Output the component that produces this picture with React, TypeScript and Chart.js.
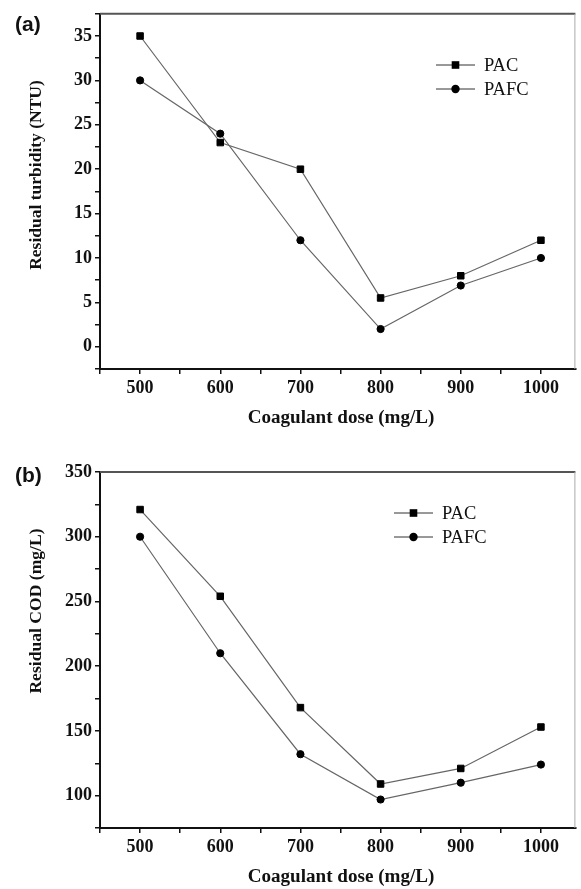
import React, { useEffect, useRef } from 'react';
import { Chart, registerables } from 'chart.js';

Chart.register(...registerables);

// ---- data ----
const doses = [500, 600, 700, 800, 900, 1000];
const seriesNames = ['PAC', 'PAFC'];
const turbidityPAC = [35, 23, 20, 5.5, 8, 12];
const turbidityPAFC = [30, 24, 12, 2, 6.9, 10];
const codPAC = [321, 254, 168, 109, 121, 153];
const codPAFC = [300, 210, 132, 97, 110, 124];
const xTitle = 'Coagulant dose (mg/L)';
const yTitleA = 'Residual turbidity (NTU)';
const yTitleB = 'Residual COD (mg/L)';

const INK = '#111';
const SERIF = '"Liberation Serif", "Times New Roman", serif';

const decorPlugin = {
  id: 'decor',
  afterDraw(chart: any, _args: any, opts: any) {
    const ctx = chart.ctx as CanvasRenderingContext2D;
    const { left, right, top, bottom } = chart.chartArea;
    ctx.save();
    // frame: top and right
    ctx.strokeStyle = '#555';
    ctx.lineWidth = 2;
    ctx.beginPath();
    ctx.moveTo(left, top);
    ctx.lineTo(right, top);
    ctx.stroke();
    ctx.strokeStyle = '#aaa';
    ctx.lineWidth = 1;
    ctx.beginPath();
    ctx.moveTo(right - 0.5, top);
    ctx.lineTo(right - 0.5, bottom);
    ctx.stroke();

    // panel label
    ctx.fillStyle = INK;
    ctx.textAlign = 'left';
    ctx.textBaseline = 'alphabetic';
    ctx.font = 'bold 21px "Liberation Sans", Arial, sans-serif';
    ctx.fillText(opts.panel, opts.panelX, opts.panelY);

    // x title
    ctx.textAlign = 'center';
    const base = 20;
    ctx.font = `bold ${base}px ${SERIF}`;
    let w = ctx.measureText(opts.xTitle).width;
    let size = (base * opts.xTitleLen) / w;
    ctx.font = `bold ${size.toFixed(1)}px ${SERIF}`;
    ctx.fillText(opts.xTitle, opts.xTitleX, opts.xTitleY);

    // y title
    ctx.font = `bold ${base}px ${SERIF}`;
    w = ctx.measureText(opts.yTitle).width;
    size = (base * opts.yTitleLen) / w;
    ctx.save();
    ctx.translate(opts.yTitleX, opts.yTitleCY);
    ctx.rotate(-Math.PI / 2);
    ctx.font = `bold ${size.toFixed(1)}px ${SERIF}`;
    ctx.fillText(opts.yTitle, 0, 0);
    ctx.restore();

    // legend
    chart.data.datasets.forEach((ds: any, i: number) => {
      const y = opts.legendY + i * opts.legendGap;
      const x0 = opts.legendX;
      ctx.strokeStyle = '#333';
      ctx.lineWidth = 1;
      ctx.beginPath();
      ctx.moveTo(x0, y);
      ctx.lineTo(x0 + 39, y);
      ctx.stroke();
      const mx = x0 + 19.5;
      ctx.fillStyle = '#000';
      if (ds.pointStyle === 'rect') {
        ctx.fillRect(mx - 3.8, y - 3.8, 7.6, 7.6);
      } else {
        ctx.beginPath();
        ctx.arc(mx, y, 4.2, 0, Math.PI * 2);
        ctx.fill();
      }
      ctx.fillStyle = INK;
      ctx.textAlign = 'left';
      ctx.textBaseline = 'middle';
      ctx.font = `18.5px ${SERIF}`;
      ctx.fillText(ds.label, x0 + 48, y + 1);
    });
    ctx.restore();
  },
};

function makeConfig(
  pac: number[],
  pafc: number[],
  yMin: number,
  yMax: number,
  yStep: number,
  yLabelStep: number,
  canvasH: number,
  areaTop: number,
  areaBottom: number,
  decor: any
): any {
  const toPts = (arr: number[]) => doses.map((d, i) => ({ x: d, y: arr[i] }));
  const common = {
    borderColor: '#666',
    borderWidth: 1.2,
    pointBackgroundColor: '#000',
    pointBorderColor: '#000',
    pointBorderWidth: 1,
    fill: false,
    tension: 0,
  };
  return {
    type: 'line',
    data: {
      datasets: [
        { ...common, label: seriesNames[0], data: toPts(pac), pointStyle: 'rect', pointRadius: 4.6 },
        { ...common, label: seriesNames[1], data: toPts(pafc), pointStyle: 'circle', pointRadius: 3.6 },
      ],
    },
    options: {
      animation: false,
      responsive: false,
      devicePixelRatio: 1,
      layout: { padding: { left: 0, right: 3, top: areaTop, bottom: 0 } },
      plugins: {
        legend: { display: false },
        tooltip: { enabled: false },
        decor,
      },
      scales: {
        x: {
          type: 'linear',
          min: 450,
          max: 1043,
          grid: { drawOnChartArea: false, drawTicks: true, tickLength: 5, color: INK, lineWidth: 1.5 },
          border: { display: true, color: INK, width: 2 },
          ticks: {
            stepSize: 50,
            includeBounds: false,
            autoSkip: false,
            maxRotation: 0,
            padding: 4,
            color: INK,
            font: { family: SERIF, size: 18, weight: 'bold' },
            callback: (v: number) => (v % 100 === 0 && v >= 500 ? String(v) : ''),
          },
          afterFit: (s: any) => {
            s.height = canvasH - areaBottom;
          },
        },
        y: {
          type: 'linear',
          min: yMin,
          max: yMax,
          grid: { drawOnChartArea: false, drawTicks: true, tickLength: 5, color: INK, lineWidth: 1.5 },
          border: { display: true, color: INK, width: 2 },
          ticks: {
            stepSize: yStep,
            autoSkip: false,
            padding: 3,
            color: INK,
            font: { family: SERIF, size: 18, weight: 'bold' },
            callback: (v: number) => (Math.abs(v % yLabelStep) < 1e-9 && v >= yMin + yStep * 0.5 ? String(v) : ''),
          },
          afterFit: (s: any) => {
            s.width = 100;
          },
        },
      },
    },
    plugins: [decorPlugin],
  };
}

function Panel(props: { top: number; height: number; config: any }) {
  const ref = useRef<HTMLCanvasElement | null>(null);
  useEffect(() => {
    if (!ref.current) return;
    const chart = new Chart(ref.current, props.config);
    return () => chart.destroy();
  }, []);
  return (
    <canvas
      ref={ref}
      width={581}
      height={props.height}
      style={{ position: 'absolute', left: 0, top: props.top, width: 581, height: props.height }}
    />
  );
}

export default function App() {
  const cfgA = makeConfig(turbidityPAC, turbidityPAFC, -2.5, 37.5, 2.5, 5, 440, 12, 369, {
    panel: '(a)',
    panelX: 15,
    panelY: 31,
    xTitle,
    xTitleLen: 187,
    xTitleX: 341,
    xTitleY: 423,
    yTitle: yTitleA,
    yTitleLen: 190,
    yTitleX: 41,
    yTitleCY: 175,
    legendX: 436,
    legendY: 65,
    legendGap: 24,
  });
  const cfgB = makeConfig(codPAC, codPAFC, 75, 350, 25, 50, 449, 32, 388, {
    panel: '(b)',
    panelX: 15,
    panelY: 42,
    xTitle,
    xTitleLen: 187,
    xTitleX: 341,
    xTitleY: 442,
    yTitle: yTitleB,
    yTitleLen: 165,
    yTitleX: 41,
    yTitleCY: 171,
    legendX: 394,
    legendY: 73,
    legendGap: 24,
  });
  return (
    <div style={{ position: 'absolute', left: 0, top: 0, width: 581, height: 889, overflow: 'hidden', background: '#fff' }}>
      <Panel top={0} height={440} config={cfgA} />
      <Panel top={440} height={449} config={cfgB} />
    </div>
  );
}
